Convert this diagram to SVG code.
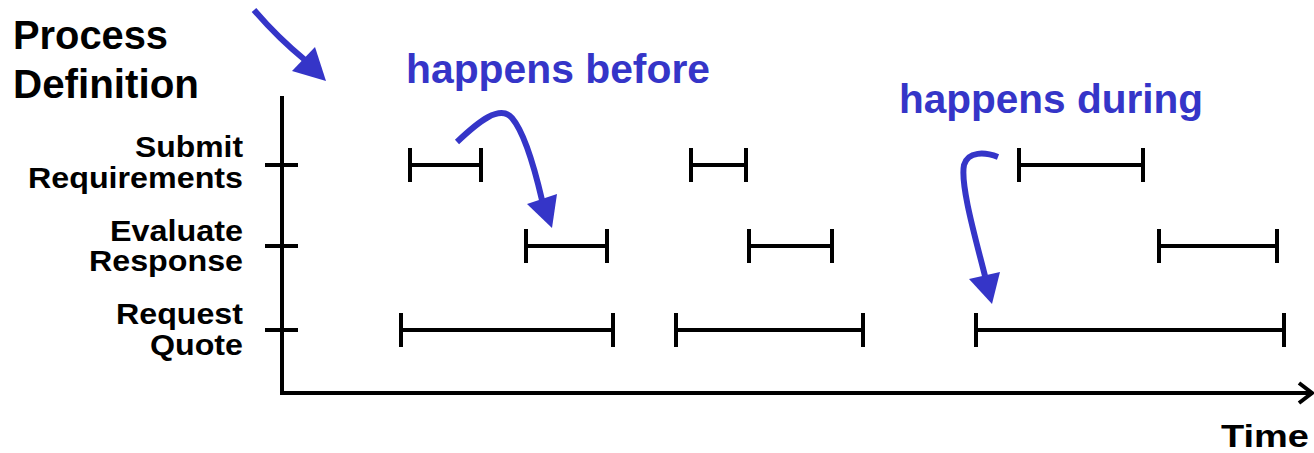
<svg xmlns="http://www.w3.org/2000/svg" width="1314" height="453" viewBox="0 0 1314 453">
<style>
.title{font-family:"Liberation Sans",Arial,sans-serif;font-weight:bold;font-size:40px;fill:#000}
.lbl{font-family:"Liberation Sans",Arial,sans-serif;font-weight:bold;font-size:29px;fill:#000;text-anchor:end}
.note{font-family:"Liberation Sans",Arial,sans-serif;font-weight:bold;font-size:40px;fill:#3535C8}
.axis{stroke:#000;stroke-width:4;fill:none}
.iv{stroke:#000;stroke-width:4;fill:none;stroke-linecap:butt}
.blue{stroke:#3535C8;stroke-width:6;fill:none;stroke-linecap:butt}
.head{fill:#3535C8;stroke:none}
</style>
<rect width="1314" height="453" fill="#fff"/>
<g id="title">
<text class="title" x="13" y="49" textLength="155" lengthAdjust="spacingAndGlyphs">Process</text>
<text class="title" x="13" y="98" textLength="186" lengthAdjust="spacingAndGlyphs">Definition</text>
</g>
<g id="axes">
<path class="axis" d="M282,96 V393 H1312"/>
<path class="axis" d="M1299,383 L1312,393 L1299,403"/>
<path class="axis" d="M265,165 H298 M265,246 H298 M265,330 H298"/>
<text class="title" x="1221" y="447" textLength="88" lengthAdjust="spacingAndGlyphs" style="font-size:32px">Time</text>
</g>
<g id="labels">
<text class="lbl" x="243" y="157" textLength="108" lengthAdjust="spacingAndGlyphs">Submit</text>
<text class="lbl" x="243" y="188" textLength="215" lengthAdjust="spacingAndGlyphs">Requirements</text>
<text class="lbl" x="243" y="241" textLength="133" lengthAdjust="spacingAndGlyphs">Evaluate</text>
<text class="lbl" x="243" y="271" textLength="154" lengthAdjust="spacingAndGlyphs">Response</text>
<text class="lbl" x="243" y="324" textLength="127" lengthAdjust="spacingAndGlyphs">Request</text>
<text class="lbl" x="243" y="355" textLength="93" lengthAdjust="spacingAndGlyphs">Quote</text>
</g>
<g id="row-submit">
<path class="iv" d="M410,148 V182 M410,165 H481 M481,148 V182"/>
<path class="iv" d="M691,148 V182 M691,165 H746 M746,148 V182"/>
<path class="iv" d="M1019,148 V182 M1019,165 H1143 M1143,148 V182"/>
</g>
<g id="row-evaluate">
<path class="iv" d="M526,229 V263 M526,246 H607 M607,229 V263"/>
<path class="iv" d="M749,229 V263 M749,246 H832 M832,229 V263"/>
<path class="iv" d="M1159,229 V263 M1159,246 H1277 M1277,229 V263"/>
</g>
<g id="row-request">
<path class="iv" d="M401,313 V347 M401,330 H613 M613,313 V347"/>
<path class="iv" d="M676,313 V347 M676,330 H863 M863,313 V347"/>
<path class="iv" d="M976,313 V347 M976,330 H1284 M1284,313 V347"/>
</g>
<g id="notes">
<text class="note" x="406" y="83" textLength="304" lengthAdjust="spacingAndGlyphs">happens before</text>
<text class="note" x="899" y="113" textLength="304" lengthAdjust="spacingAndGlyphs">happens during</text>
</g>
<g id="connectors">
<path class="blue" d="M254,10 Q278,38 305,60"/>
<polygon class="head" points="292,71 315,47 326,81"/>
<path class="blue" d="M457,142 C478,122 500,104 512,118 C524,132 535,170 542,200"/>
<polygon class="head" points="527,204 557,194 552,228"/>
<path class="blue" d="M998,157 C985,152 968,151 964,165 C960,185 976,240 985,276"/>
<polygon class="head" points="969,279 1000,272 992,304"/>
</g>
</svg>
